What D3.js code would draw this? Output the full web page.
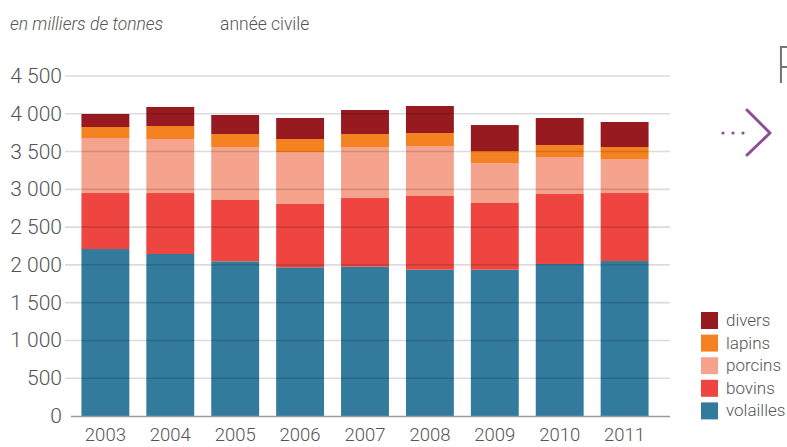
<!DOCTYPE html>
<html>
<head>
<meta charset="utf-8">
<script src="https://cdn.jsdelivr.net/npm/d3@7"></script>
<style>
  body { margin: 0; background: #fff; }
  svg text { font-family: Roboto, "Open Sans", sans-serif; font-weight: 300; fill: #555; }
</style>
</head>
<body>
<svg id="chart" width="787" height="447"></svg>
<script>
// years and tonnages (milliers de tonnes)
var years = ["2003", "2004", "2005", "2006", "2007", "2008", "2009", "2010", "2011"];
var volailles = [2210, 2144, 2047, 1968, 1976, 1936, 1936, 2012, 2051];
var bovins    = [741, 807, 812, 838, 909, 976, 883, 926, 900];
var porcins   = [728, 715, 701, 688, 675, 661, 529, 490, 450];
var lapins    = [146, 172, 172, 172, 172, 172, 159, 159, 159];
var divers    = [172, 252, 252, 278, 318, 358, 344, 357, 331];

var seriesKeys = ["volailles", "bovins", "porcins", "lapins", "divers"];
var seriesColors = ["#337b9c", "#ef4540", "#f6a38e", "#f58220", "#961a1f"];
var yTicks = [0, 500, 1000, 1500, 2000, 2500, 3000, 3500, 4000, 4500];

var rows = years.map(function(y, i) {
    return { year: y, volailles: volailles[i], bovins: bovins[i], porcins: porcins[i], lapins: lapins[i], divers: divers[i] };
});

var svg = d3.select("#chart");

var x = d3.scaleBand()
    .domain(years)
    .range([73, 657])
    .paddingInner(0.262)
    .paddingOuter(0.13);

var y = d3.scaleLinear()
    .domain([0, 4500])
    .range([416, 76]);

var color = d3.scaleOrdinal().domain(seriesKeys).range(seriesColors);

var stack = d3.stack().keys(seriesKeys)(rows);

// bars
svg.append("g")
    .selectAll("g")
    .data(stack)
    .enter().append("g")
    .attr("fill", function(d) { return color(d.key); })
    .selectAll("rect")
    .data(function(d) { return d; })
    .enter().append("rect")
    .attr("x", function(d) { return x(d.data.year); })
    .attr("width", x.bandwidth())
    .attr("y", function(d) { return y(d[1]); })
    .attr("height", function(d) { return y(d[0]) - y(d[1]); });

// gridlines on top of the bars
svg.append("g")
    .selectAll("line")
    .data(yTicks.filter(function(t) { return t > 0; }))
    .enter().append("line")
    .attr("x1", 65).attr("x2", 670)
    .attr("y1", function(d) { return y(d); })
    .attr("y2", function(d) { return y(d); })
    .attr("stroke", "#000")
    .attr("stroke-opacity", 0.14)
    .attr("stroke-width", 1.6);

// baseline
svg.append("line")
    .attr("x1", 71).attr("x2", 670)
    .attr("y1", y(0) + 0.5).attr("y2", y(0) + 0.5)
    .attr("stroke", "#9a9a9a")
    .attr("stroke-width", 1.5);

// y tick labels
var fmt = function(v) { return d3.format(",")(v).replace(/,/g, " "); };
svg.append("g")
    .selectAll("text")
    .data(yTicks)
    .enter().append("text")
    .attr("x", 62)
    .attr("y", function(d) { return y(d) + 7; })
    .attr("text-anchor", "end")
    .style("font-size", "21px")
    .text(fmt);

// x labels
svg.append("g")
    .selectAll("text")
    .data(years)
    .enter().append("text")
    .attr("x", function(d) { return x(d) + x.bandwidth() / 2; })
    .attr("y", 441)
    .attr("text-anchor", "middle")
    .style("font-size", "18.5px")
    .text(function(d) { return d; });

// header texts
svg.append("text")
    .attr("x", 10).attr("y", 30)
    .style("font-size", "17.5px")
    .style("font-style", "italic")
    .text("en milliers de tonnes");
svg.append("text")
    .attr("x", 220).attr("y", 30)
    .style("font-size", "17.5px")
    .text("année civile");

// legend, top to bottom: divers ... volailles
var legendKeys = seriesKeys.slice().reverse();
var legend = svg.append("g")
    .selectAll("g")
    .data(legendKeys)
    .enter().append("g")
    .attr("transform", function(d, i) { return "translate(701," + (312 + i * 22.6) + ")"; });
legend.append("rect")
    .attr("width", 17).attr("height", 17)
    .attr("fill", function(d) { return color(d); });
legend.append("text")
    .attr("x", 25).attr("y", 14)
    .style("font-size", "17px")
    .text(function(d) { return d; });

// cut-off letter and purple arrow at the right edge
svg.append("text")
    .attr("x", 775).attr("y", 83)
    .style("font-size", "52px")
    .style("font-weight", "200")
    .style("fill", "#777")
    .text("P");

var arrow = svg.append("g").attr("stroke", "#8e4e96").attr("fill", "#8e4e96");
arrow.selectAll("circle")
    .data([723, 733, 743])
    .enter().append("circle")
    .attr("cx", function(d) { return d; })
    .attr("cy", 133)
    .attr("r", 1.6)
    .attr("stroke", "none");
arrow.append("path")
    .attr("d", "M747,110L770,133L747,155")
    .attr("fill", "none")
    .attr("stroke-width", 3)
    .attr("stroke-linecap", "round")
    .attr("stroke-linejoin", "round");
</script>
</body>
</html>
